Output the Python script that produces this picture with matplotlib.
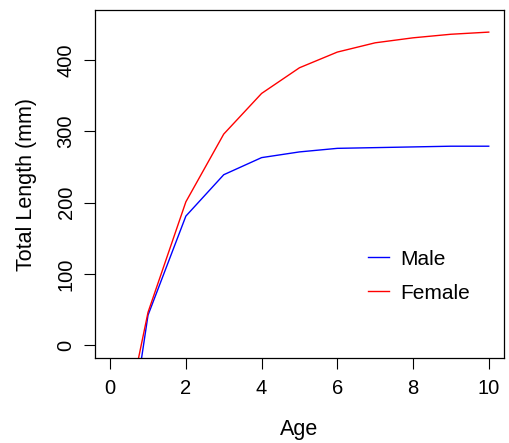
import matplotlib
matplotlib.use("Agg")
import matplotlib.pyplot as plt

plt.rcParams['font.family'] = ['Liberation Sans', 'DejaVu Sans']

# growth curves (total length by age)
age = [0, 1, 2, 3, 4, 5, 6, 7, 8, 9, 10]
male = [-311, 42, 181, 239, 263, 271, 276, 277, 278, 279, 279]
female = [-210, 46, 201, 296, 353, 389, 411, 424, 431, 436, 439]
xticks = [0, 2, 4, 6, 8, 10]
yticks = [0, 100, 200, 300, 400]

fig = plt.figure(figsize=(5.10, 4.43), dpi=100)
ax = fig.add_axes([0.1863, 0.1919, 0.8017, 0.7855])

ax.plot(age, male, color='blue', lw=1, label='Male')
ax.plot(age, female, color='red', lw=1, label='Female')

ax.set_xlim(-0.4, 10.4)
ax.set_ylim(-18, 470)
ax.set_xticks(xticks)
ax.set_yticks(yticks)
ax.tick_params(direction='out', length=8, width=0.8, labelsize=14.5)
ax.tick_params(axis='x', pad=7)
ax.tick_params(axis='y', pad=6)
plt.setp(ax.get_yticklabels(), rotation=90, va='center')
for s in ax.spines.values():
    s.set_linewidth(0.9)

ax.set_xlabel('Age', fontsize=15.5, labelpad=15)
ax.set_ylabel('Total Length (mm)', fontsize=15.5, labelpad=14)

ax.legend(loc='center left', bbox_to_anchor=(0.641, 0.235), frameon=False,
          fontsize=15, borderpad=0, handlelength=1.05, handletextpad=0.5,
          labelspacing=0.72)

fig.savefig('out.png', dpi=100)
